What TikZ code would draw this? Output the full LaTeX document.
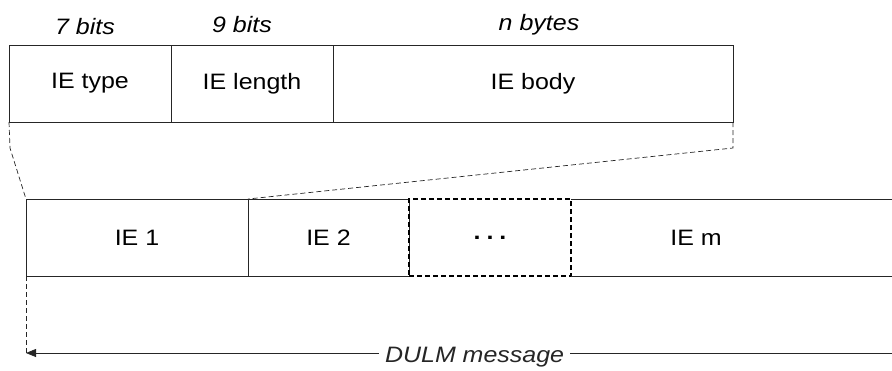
\documentclass[tikz,border=0pt]{standalone}
\usepackage{fontspec}
\setmainfont[FakeStretch=1.12]{Liberation Sans}
\usetikzlibrary{arrows.meta}
\begin{document}
\begin{tikzpicture}[x=1pt,y=-1pt,
  every node/.style={inner sep=0pt,outer sep=0pt,font=\fontsize{22.3}{26}\selectfont},
  field/.style={draw=black!85,line width=0.8pt,minimum height=77pt},
  lbl/.style={font=\fontsize{22.3}{26}\selectfont\itshape},
  zoomline/.style={draw=black!85,line width=0.7pt,dash pattern=on 5pt off 3pt},
  gapbox/.style={draw=black,line width=1.1pt,dash pattern=on 5pt off 3pt,minimum height=77pt}]
\useasboundingbox (0,0) rectangle (892,370);
% top row
\node[field,minimum width=162pt] (type) at (90,83.5) {IE type};
\node[field,minimum width=162pt] (len) at (252,83.5) {IE length};
\node[field,minimum width=400pt] (body) at (533,83.5) {IE body};
\node[lbl] (b7) at (85,27) {7 bits};
\node[lbl] (b9) at (242,25) {9 bits};
\node[lbl] (nb) at (539,25) {n bytes};
% bottom row
\node[field,minimum width=222pt] (ie1) at (137,237.5) {IE 1};
\node[field,minimum width=161pt] (ie2) at (328.5,237.5) {IE 2};
\node[gapbox,minimum width=162pt] (dots) at (490,237.5) {\textbf{.\hspace{6pt}.\hspace{6pt}.}};
\node[minimum width=250pt,minimum height=77pt] (iem) at (696,237.5) {IE m};
\coordinate (rt) at (892,199);
\coordinate (rb) at (892,276);
\draw[black!85,line width=0.8pt] (iem.north west) -- (rt);
\draw[black!85,line width=0.8pt] (iem.south west) -- (rb);
% zoom lines
\coordinate (lk) at (10,148);
\coordinate (rk) at (733,148);
\draw[zoomline] (type.south west) -- (lk) -- (ie1.north west);
\draw[zoomline] (body.south east) -- (rk) -- (ie1.north east);
% message span
\coordinate (ms) at (26,353);
\coordinate (me) at (892,353);
\draw[zoomline] (ie1.south west) -- (ms);
\draw[black!85,line width=0.8pt,-{Triangle[length=10pt,width=8pt]}] (me) -- (ms)
  node[pos=0.482,lbl,fill=white,inner xsep=6pt,inner ysep=3pt,yshift=-4pt] (msg) {DULM message};
\end{tikzpicture}
\end{document}
